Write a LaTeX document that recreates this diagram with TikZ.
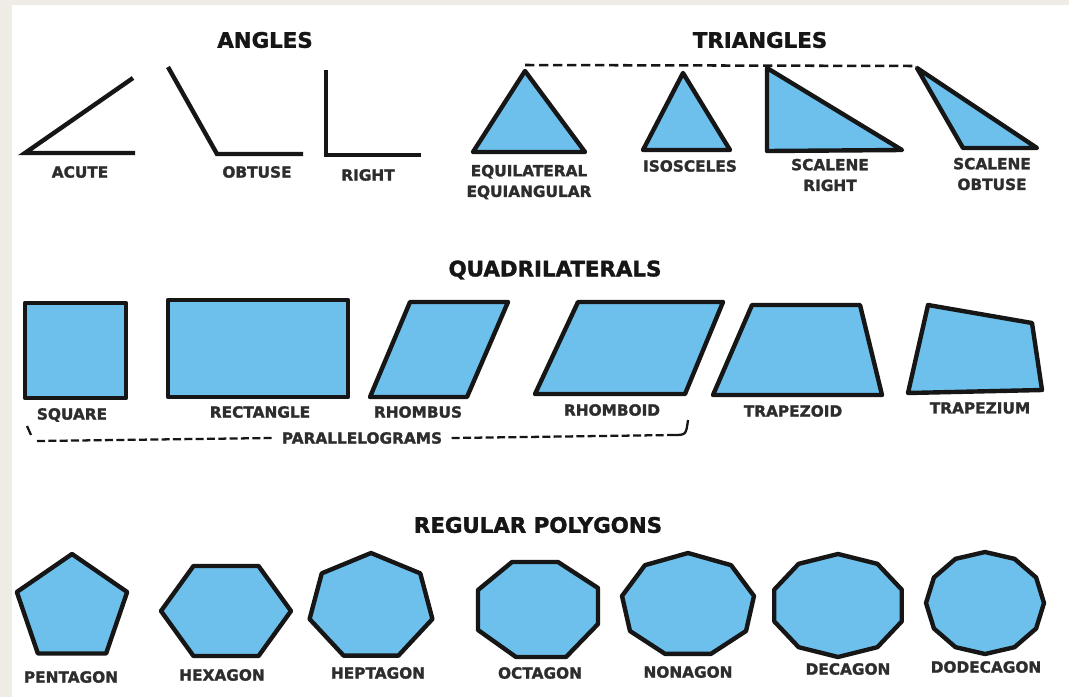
\documentclass[tikz,border=0pt]{standalone}
\usepackage{fontspec}
\setmainfont{DejaVu Sans}[BoldFeatures={FakeBold=1.6}]
\definecolor{shapeblue}{RGB}{110,192,236}
\definecolor{paper}{RGB}{239,236,229}
\definecolor{ink}{RGB}{22,22,22}
\tikzset{
  figure/.style={fill=shapeblue, draw=ink, line width=3.3pt, line join=round},
  arm/.style={draw=ink, line width=3.3pt, line join=miter},
  lbl/.style={font=\bfseries\fontsize{11.5}{15.5}\selectfont, text=ink!90, align=center, inner sep=0pt},
  ttl/.style={font=\bfseries\fontsize{16}{18}\selectfont, text=ink, inner sep=0pt},
  guide/.style={draw=ink, line width=1.7pt, dash pattern=on 6pt off 2.5pt}
}
\newcommand{\ngon}[6]{%
  \pgfmathtruncatemacro{\nlast}{#1-1}%
  \draw[figure] ({#2+#4*cos(#6)},{#3+#5*sin(#6)})
    \foreach \k in {1,...,\nlast}{ -- ({#2+#4*cos(#6+\k*360/#1)},{#3+#5*sin(#6+\k*360/#1)}) } -- cycle;}
\begin{document}
\begin{tikzpicture}[x=0.75pt,y=-0.75pt]
            \fill [paper] (0,0) rectangle (1069,697);
            \fill [white] (12,5) rectangle (1069,697);
            \useasboundingbox (0,0) rectangle (1069,697);
            % angles
            \node [ttl] (angles) at (265,40) {ANGLES};
            \draw [arm] (133,78) -- (25,153) -- (135,153);
            \draw [arm] (168,67) -- (217,154) -- (303,154);
            \draw [arm] (326,70) -- (326,155) -- (421,155);
            \node [lbl] (acute) at (80,172) {ACUTE};
            \node [lbl] (obtuse) at (257,172) {OBTUSE};
            \node [lbl] (right) at (368,175) {RIGHT};
            % triangles
            \node [ttl] (triangles) at (760,40) {TRIANGLES};
            \coordinate (topA) at (525,65);
            \coordinate (topB) at (917,66);
            \draw [guide, line width=1.9pt, dash pattern=on 7pt off 3.5pt] (topA) -- (topB);
            \draw [figure] (473,152) -- (525,71) -- (585,152) -- cycle;
            \draw [figure] (643,150) -- (683,73) -- (730,150) -- cycle;
            \draw [figure] (767,68) -- (767,151) -- (902,150) -- cycle;
            \draw [figure] (917,68) -- (963,148) -- (1037,148) -- cycle;
            \node [lbl] (equi) at (529,182) {EQUILATERAL\\EQUIANGULAR};
            \node [lbl] (isos) at (690,166) {ISOSCELES};
            \node [lbl] (scright) at (830,175) {SCALENE\\RIGHT};
            \node [lbl] (scobtuse) at (992,174) {SCALENE\\OBTUSE};
            % quadrilaterals
            \node [ttl] (quads) at (555,270) {QUADRILATERALS};
            \draw [figure] (25,303) rectangle (126,398);
            \draw [figure] (168,300) rectangle (348,397);
            \draw [figure] (370,397) -- (467,397) -- (508,302) -- (410,302) -- cycle;
            \draw [figure] (535,394) -- (685,394) -- (723,302) -- (578,302) -- cycle;
            \draw [figure] (713,395) -- (882,395) -- (860,305) -- (752,305) -- cycle;
            \draw [figure] (908,393) -- (1042,390) -- (1032,323) -- (928,305) -- cycle;
            \node [lbl] (square) at (72,415) {SQUARE};
            \node [lbl] (rect) at (260,412) {RECTANGLE};
            \node [lbl] (rhombus) at (418,412) {RHOMBUS};
            \node [lbl] (rhomboid) at (612,410) {RHOMBOID};
            \node [lbl] (trapezoid) at (793,411) {TRAPEZOID};
            \node [lbl] (trapezium) at (980,408) {TRAPEZIUM};
            \node [lbl, inner xsep=7pt] (par) at (362,438) {PARALLELOGRAMS};
            \coordinate (brTick) at (27,426);
            \coordinate (brA) at (37,441);
            \coordinate (brB) at (673,435);
            \coordinate (brC) at (688,420);
            \draw [guide, solid] (brTick) -- (31,435);
            \draw [guide] (brA) -- (par.west);
            \draw [guide] (par.east) -- (brB);
            \draw [guide, solid] (brB) .. controls (686,435) .. (brC);
            % regular polygons
            \node [ttl] (polys) at (538,525) {REGULAR POLYGONS};
            \ngon{5}{72}{609}{58}{55}{-90}
            \ngon{6}{226}{611}{65}{52}{0}
            \ngon{7}{371}{607}{63}{54}{-90}
            \draw [figure] (512,562) -- (558,562) -- (598,588) -- (598,624) -- (566,657) -- (516,657) -- (478,630) -- (478,590) -- cycle;
            \ngon{9}{688}{605}{67}{52}{-90}
            \ngon{10}{838}{605.5}{67}{51.5}{-90}
            \ngon{12}{985}{603}{59}{51}{-90}
            \node [lbl] (penta) at (71,677) {PENTAGON};
            \node [lbl] (hexa) at (222,675) {HEXAGON};
            \node [lbl] (hepta) at (378,673) {HEPTAGON};
            \node [lbl] (octa) at (540,673) {OCTAGON};
            \node [lbl] (nona) at (688,672) {NONAGON};
            \node [lbl] (deca) at (848,669) {DECAGON};
            \node [lbl] (dodeca) at (986,667) {DODECAGON};
        \end{tikzpicture}
\end{document}
